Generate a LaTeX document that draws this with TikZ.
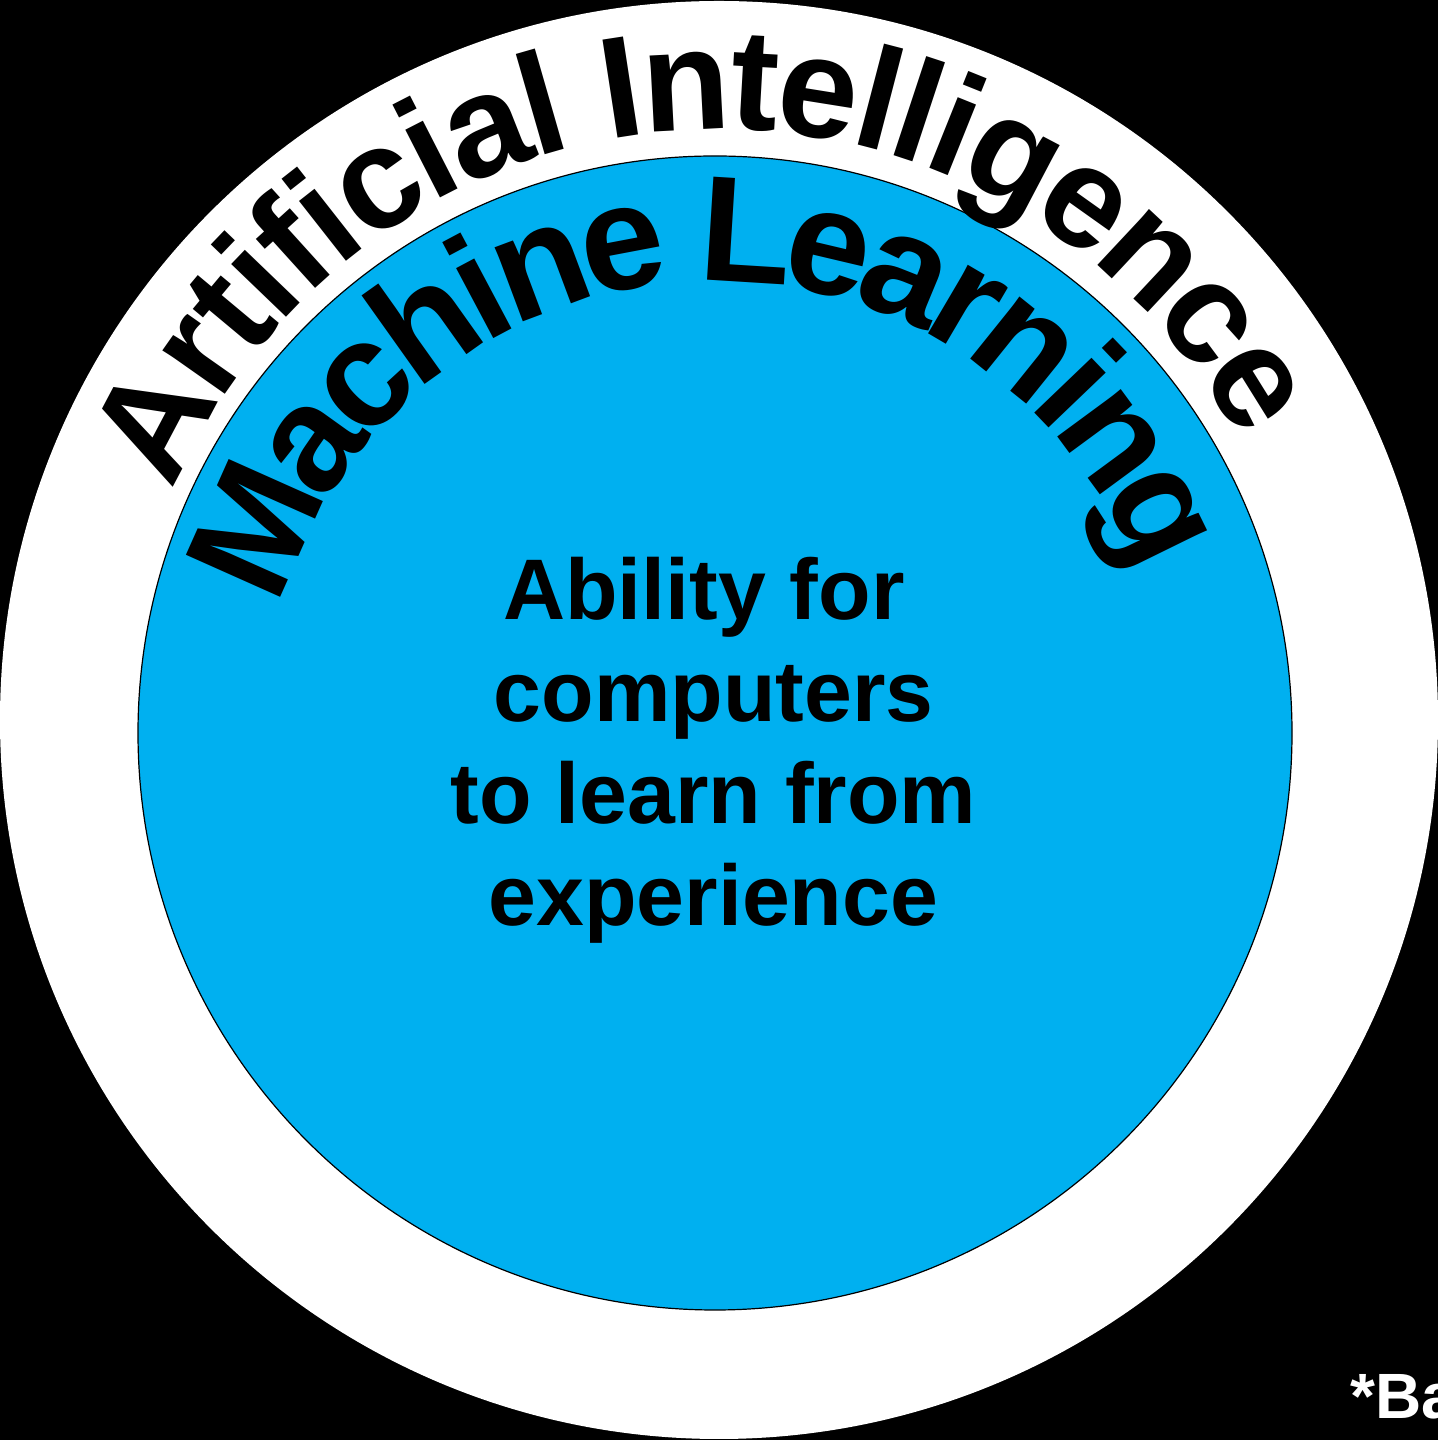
\documentclass[tikz,border=0pt]{standalone}
\usepackage{fontspec}
\setmainfont{Liberation Sans}
\usetikzlibrary{decorations.text}
\definecolor{mlblue}{HTML}{00B0F0}
\begin{document}
\begin{tikzpicture}[x=1pt,y=1pt,
  ring/.style={circle, inner sep=0pt, outer sep=0pt},
  desc/.style={anchor=base, inner sep=0pt, font=\fontsize{86}{103}\selectfont\bfseries}]
\fill[black] (0,0) rectangle (1438,1440);
\useasboundingbox (0,0) rectangle (1438,1440);
\node[ring, fill=white, minimum size=1438pt] (ai) at (719,720) {};
\node[ring, fill=mlblue, draw=black, line width=1.2pt, minimum size=1154pt] (ml) at (715,707) {};
\path[decorate, decoration={text along path, text align=center, raise=-36pt,
  text={|\fontsize{144}{173}\selectfont\bfseries|Artificial Intelligence}}]
  ([shift={(185.2:627pt)}]ai.center) arc[start angle=185.2, end angle=0, radius=627pt];
\path[decorate, decoration={text along path, text align=center, raise=-63pt,
  text={|\fontsize{150}{180}\selectfont\bfseries|Machine Learning}}]
  ([shift={(184:515pt)}]ml.center) arc[start angle=184, end angle=0, radius=515pt];
\node[desc] (l1) at (704,820) {Ability for};
\node[desc] (l2) at (713.5,718) {computers};
\node[desc] (l3) at (713.5,616) {to learn from};
\node[desc] (l4) at (713.5,514) {experience};
\node[anchor=base west, inner sep=0pt, text=white, font=\fontsize{64}{77}\selectfont\bfseries] (note) at (1350,21) {*Ba};
\end{tikzpicture}
\end{document}
